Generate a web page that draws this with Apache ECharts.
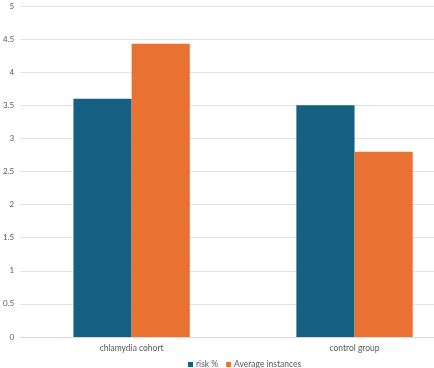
<!DOCTYPE html>
<html><head><meta charset="utf-8">
<script src="https://cdn.jsdelivr.net/npm/echarts@6/dist/echarts.min.js"></script>
<style>html,body{margin:0;padding:0;background:#fff;overflow:hidden;width:434px;height:368px}#c{width:466px;height:368px}</style>
</head><body><div id="c"></div>
<script>
const categories = ["chlamydia cohort", "control group"];
const riskPct = [3.6, 3.5];
const avgInstances = [4.43, 2.8];
const yTicks = [0, 0.5, 1, 1.5, 2, 2.5, 3, 3.5, 4, 4.5, 5];

const chart = echarts.init(document.getElementById('c'), null, {renderer: 'canvas'});
const font = 'Lato, Roboto, "Noto Sans", sans-serif';
chart.setOption({
  animation: false,
  textStyle: {fontFamily: font},
  grid: {left: 18, top: 6, right: 0, bottom: 31, containLabel: false},
  legend: {
    left: 183, top: 355,
    itemWidth: 5, itemHeight: 5, itemGap: 8,
    icon: 'rect',
    textStyle: {fontSize: 8.5, color: '#595959', fontFamily: font, padding: [0, 0, 0, -2]},
    data: ['risk %', 'Average instances']
  },
  xAxis: {
    type: 'category', data: categories,
    axisLine: {lineStyle: {color: '#d9d9d9'}},
    axisTick: {show: false},
    axisLabel: {fontSize: 8.5, color: '#595959', margin: 7}
  },
  yAxis: {
    type: 'value', min: 0, max: 5, interval: 0.5,
    axisLine: {show: false}, axisTick: {show: false},
    splitLine: {lineStyle: {color: '#e3e3e3'}},
    axisLabel: {fontSize: 8, color: '#595959', margin: 6,
      formatter: v => yTicks.includes(v) ? String(v) : ''}
  },
  series: [
    {name: 'risk %', type: 'bar', data: riskPct, barGap: '0%', barCategoryGap: '47.8%',
     itemStyle: {color: '#156082'}},
    {name: 'Average instances', type: 'bar', data: avgInstances, barGap: '0%', barCategoryGap: '47.8%',
     itemStyle: {color: '#E97132'}}
  ]
});
</script></body></html>
